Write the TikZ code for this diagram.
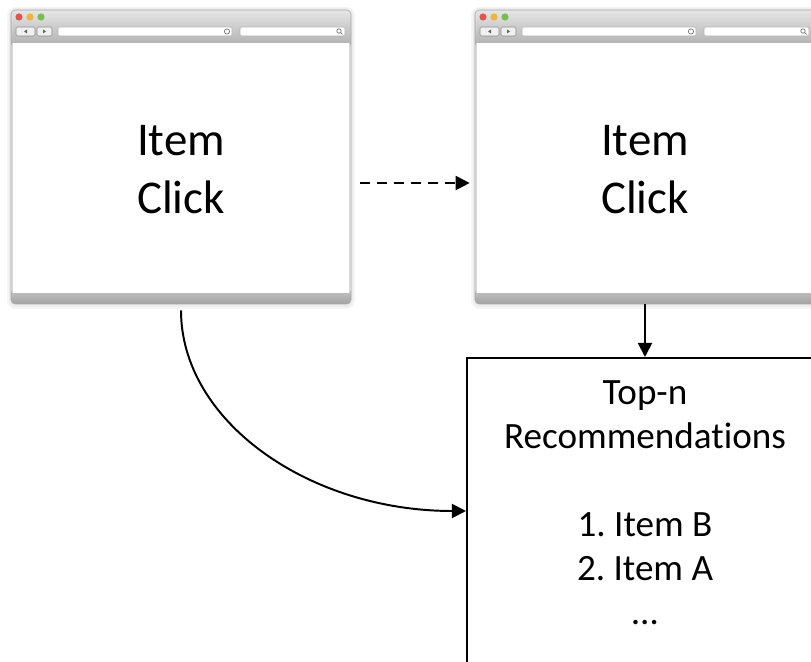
\documentclass[tikz,border=0pt]{standalone}
\usepackage{fontspec}
\setmainfont{Carlito}[Ligatures=NoCommon]
\frenchspacing
\usetikzlibrary{arrows.meta, positioning}
\definecolor{Mac_Red}{HTML}{E2574C}
\definecolor{Mac_Yellow}{HTML}{F0B43C}
\definecolor{Mac_Green}{HTML}{72C04E}

\begin{document}
\begin{tikzpicture}[x=0.025cm, y=-0.025cm,
    window/.style={inner sep=0, minimum width=8.5cm, minimum height=7.35cm},
    wintext/.style={align=center, font=\fontsize{33.4}{41.3}\selectfont},
    listtext/.style={align=center, font=\fontsize{26.4}{31.3}\selectfont},
    flow/.style={line width=1.4pt, -{Triangle[length=10pt, width=10pt]}}]
    \useasboundingbox (0,0) rectangle (811,662);
    \clip (0,0) rectangle (811,662);
    % Browser windows
    \foreach \wx/\wn in {11/win1, 475/win2} {
        \fill[black!4, rounded corners=6] (\wx-4,7) rectangle (\wx+344,309);
        \fill[black!7, rounded corners=5] (\wx-2,8) rectangle (\wx+342,307);
        \shade[top color=black!10, bottom color=black!32, rounded corners=3] (\wx,10) rectangle (\wx+340,48);
        \shade[top color=black!22, bottom color=black!36, rounded corners=3] (\wx,288) rectangle (\wx+340,304);
        \fill[white] (\wx+1,43) rectangle (\wx+339,293);
        \draw[black!15] (\wx+1.5,43) -- (\wx+1.5,293) (\wx+338.5,43) -- (\wx+338.5,293);
        \draw[black!35, rounded corners=3] (\wx,10) rectangle (\wx+340,304);
        \node[window] (\wn) at (\wx+170,157) {};
        % traffic lights
        \fill[Mac_Red] (\wx+8,17) circle (3.6);
        \fill[Mac_Yellow] (\wx+19,17) circle (3.6);
        \fill[Mac_Green] (\wx+30,17) circle (3.6);
        % back and forward buttons
        \draw[black!45, fill=black!6, rounded corners=1] (\wx+5,27) rectangle (\wx+24,36);
        \draw[black!45, fill=black!6, rounded corners=1] (\wx+26,27) rectangle (\wx+41,36);
        \fill[black!60] (\wx+13,31.5) -- (\wx+16,29.5) -- (\wx+16,33.5) -- cycle;
        \fill[black!60] (\wx+35,31.5) -- (\wx+32,29.5) -- (\wx+32,33.5) -- cycle;
        % address and search bars
        \draw[black!30, fill=white, rounded corners=1] (\wx+47,27) rectangle (\wx+221,36);
        \draw[black!55, line width=0.5pt] (\wx+216,31.5) circle (2.6);
        \draw[black!30, fill=white, rounded corners=1] (\wx+229,27) rectangle (\wx+334,36);
        \draw[black!55, line width=0.5pt] (\wx+328,31) circle (2.2) (\wx+329.6,32.6) -- (\wx+331.5,34.5);
    }
    % Texts
    \node[wintext] (click1) at (181,170) {Item\\Click};
    \node[wintext] (click2) at (645,170) {Item\\Click};
    \node[draw, line width=1.4pt, inner sep=0, minimum width=8.9cm, minimum height=8.5cm, anchor=north] (recs) at (645,357) {};
    \node[listtext] (toplist) at (645,503) {Top-n\\Recommendations\\[31.3pt]1. Item B\\2. Item A\\…};
    % Arrows
    \draw[flow, dash pattern=on 7pt off 5pt] ([shift={(9,26)}]win1.east) -- ([shift={(-5,26)}]win2.west);
    \draw[flow] (win2.south) -- (recs.north);
    \draw[flow] ([shift={(0,6)}]win1.south) .. controls +(0,111) and +(-157,0) .. ([shift={(0,154)}]recs.north west);
\end{tikzpicture}
\end{document}
